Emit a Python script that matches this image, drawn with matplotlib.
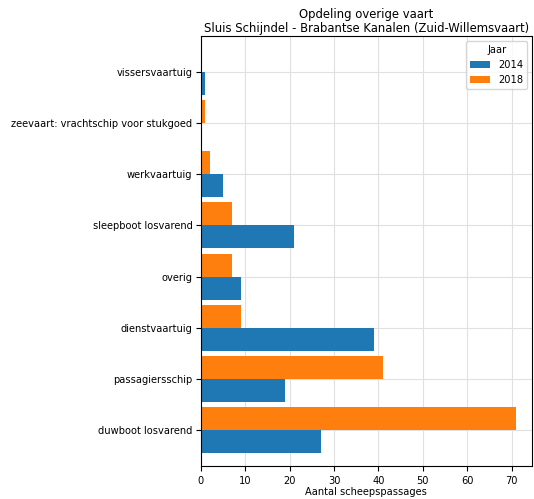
import numpy as np
import matplotlib.pyplot as plt

categories = ['duwboot losvarend', 'passagiersschip', 'dienstvaartuig', 'overig',
              'sleepboot losvarend', 'werkvaartuig',
              'zeevaart: vrachtschip voor stukgoed', 'vissersvaartuig']
v2014 = [27, 19, 39, 9, 21, 5, 0, 1]
v2018 = [71, 41, 9, 7, 7, 2, 1, 0]

plt.rcParams['font.size'] = 7.1
fig = plt.figure(figsize=(5.34, 4.99), dpi=100)
ax = fig.add_axes([0.376, 0.066, 0.62, 0.862])

y = np.arange(len(categories))
w = 0.45
ax.barh(y - w/2, v2014, height=w, color='#1f77b4', label='2014', zorder=2)
ax.barh(y + w/2, v2018, height=w, color='#ff7f0e', label='2018', zorder=2)

ax.set_yticks(y)
ax.set_yticklabels(categories)
ax.tick_params(axis='y', pad=2.5)
ax.set_ylim(-0.7, 7.7)
ax.set_xlim(0, 74.55)
ax.set_xticks(range(0, 71, 10))
ax.grid(True, color='#e0e0e0', linewidth=0.8, zorder=0)
ax.set_axisbelow(True)
ax.set_xlabel('Aantal scheepspassages', labelpad=1)
ax.set_title('Opdeling overige vaart\nSluis Schijndel - Brabantse Kanalen (Zuid-Willemsvaart)',
             fontsize=8.4, linespacing=1.05, pad=3)
leg = ax.legend(title='Jaar', loc='upper right')

fig.savefig('out.png', dpi=100)
